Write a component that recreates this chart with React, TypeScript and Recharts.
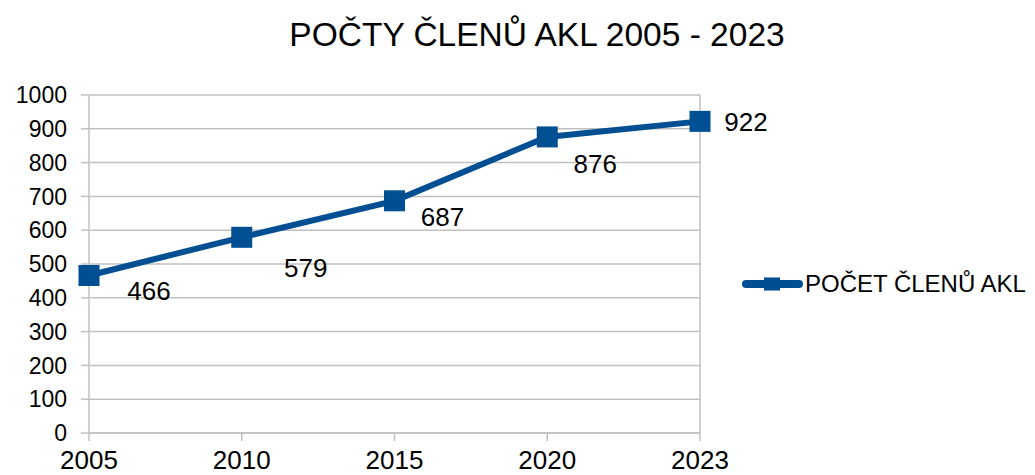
import React from 'react';
import {
  LineChart,
  Line,
  XAxis,
  YAxis,
  CartesianGrid,
  LabelList,
} from 'recharts';

// Members of AKL over the years
const years = ['2005', '2010', '2015', '2020', '2023'];
const members = [466, 579, 687, 876, 922];
const yTicks = [0, 100, 200, 300, 400, 500, 600, 700, 800, 900, 1000];

const SERIES_NAME = 'POČET ČLENŮ AKL';
const TITLE = 'POČTY ČLENŮ AKL 2005 - 2023';

// hand-placed data labels (dx from point centre, dy to baseline)
const labelOffsets: [number, number][] = [
  [60, 25],
  [64, 40],
  [48, 25],
  [48, 36],
  [46, 10],
];

const BLUE = '#004f93';
const GRID = '#c0c0c0';
const FONT = '"Liberation Sans", Arial, sans-serif';

const data = years.map((year, i) => ({ year, value: members[i] }));

const SquareDot = (props: any) => {
  const { cx, cy } = props;
  if (cx == null || cy == null) return null;
  return <rect x={cx - 10.5} y={cy - 10.5} width={21} height={21} fill={BLUE} />;
};

const ValueLabel = (props: any) => {
  const { x, y, value, index } = props;
  const [dx, dy] = labelOffsets[index] ?? [40, 10];
  return (
    <text x={x + dx} y={y + dy} textAnchor="middle" fill="#000" fontSize={26} fontFamily={FONT}>
      {value}
    </text>
  );
};

const ChartLegend = () => (
  <div
    style={{
      position: 'absolute',
      left: 741,
      top: 270,
      display: 'flex',
      alignItems: 'center',
      fontFamily: FONT,
      fontSize: 24,
      color: '#000',
      whiteSpace: 'nowrap',
    }}
  >
    <svg width={62} height={20} style={{ marginRight: 2 }}>
      <line x1={5} y1={10} x2={58} y2={10} stroke={BLUE} strokeWidth={8} strokeLinecap="round" />
      <rect x={23} y={3.5} width={16} height={13} fill={BLUE} />
    </svg>
    <span>{SERIES_NAME}</span>
  </div>
);

export default function App() {
  return (
    <div style={{ position: 'fixed', left: 0, top: 0, width: 1035, height: 475, background: '#fff' }}>
      <div
        style={{
          position: 'absolute',
          left: 0,
          top: 15,
          width: 1074,
          textAlign: 'center',
          fontFamily: FONT,
          fontSize: 33.5,
          color: '#000',
          lineHeight: '40px',
        }}
      >
        {TITLE}
      </div>
      <LineChart width={1035} height={475} data={data} margin={{ top: 95, right: 335, bottom: 0, left: 0 }}>
        <CartesianGrid
          stroke={GRID}
          strokeWidth={1.5}
          vertical
          verticalCoordinatesGenerator={({ offset }: any) => [offset.left + offset.width]}
        />
        <XAxis
          dataKey="year"
          height={42}
          axisLine={{ stroke: GRID, strokeWidth: 1.5 }}
          tickLine={{ stroke: GRID, strokeWidth: 1.5 }}
          tickSize={8}
          tickMargin={10}
          tick={{ fill: '#000', fontSize: 26, fontFamily: FONT }}
          interval={0}
        />
        <YAxis
          width={89}
          domain={[0, 1000]}
          ticks={yTicks}
          interval={0}
          axisLine={{ stroke: GRID, strokeWidth: 1.5 }}
          tickLine={{ stroke: GRID, strokeWidth: 1.5 }}
          tickSize={8}
          tickMargin={14}
          tick={{ fill: '#000', fontSize: 23, fontFamily: FONT }}
        />
        <Line
          type="linear"
          dataKey="value"
          name={SERIES_NAME}
          stroke={BLUE}
          strokeWidth={6}
          dot={<SquareDot />}
          activeDot={false}
          isAnimationActive={false}
        >
          <LabelList dataKey="value" content={<ValueLabel />} />
        </Line>
      </LineChart>
      <ChartLegend />
    </div>
  );
}
